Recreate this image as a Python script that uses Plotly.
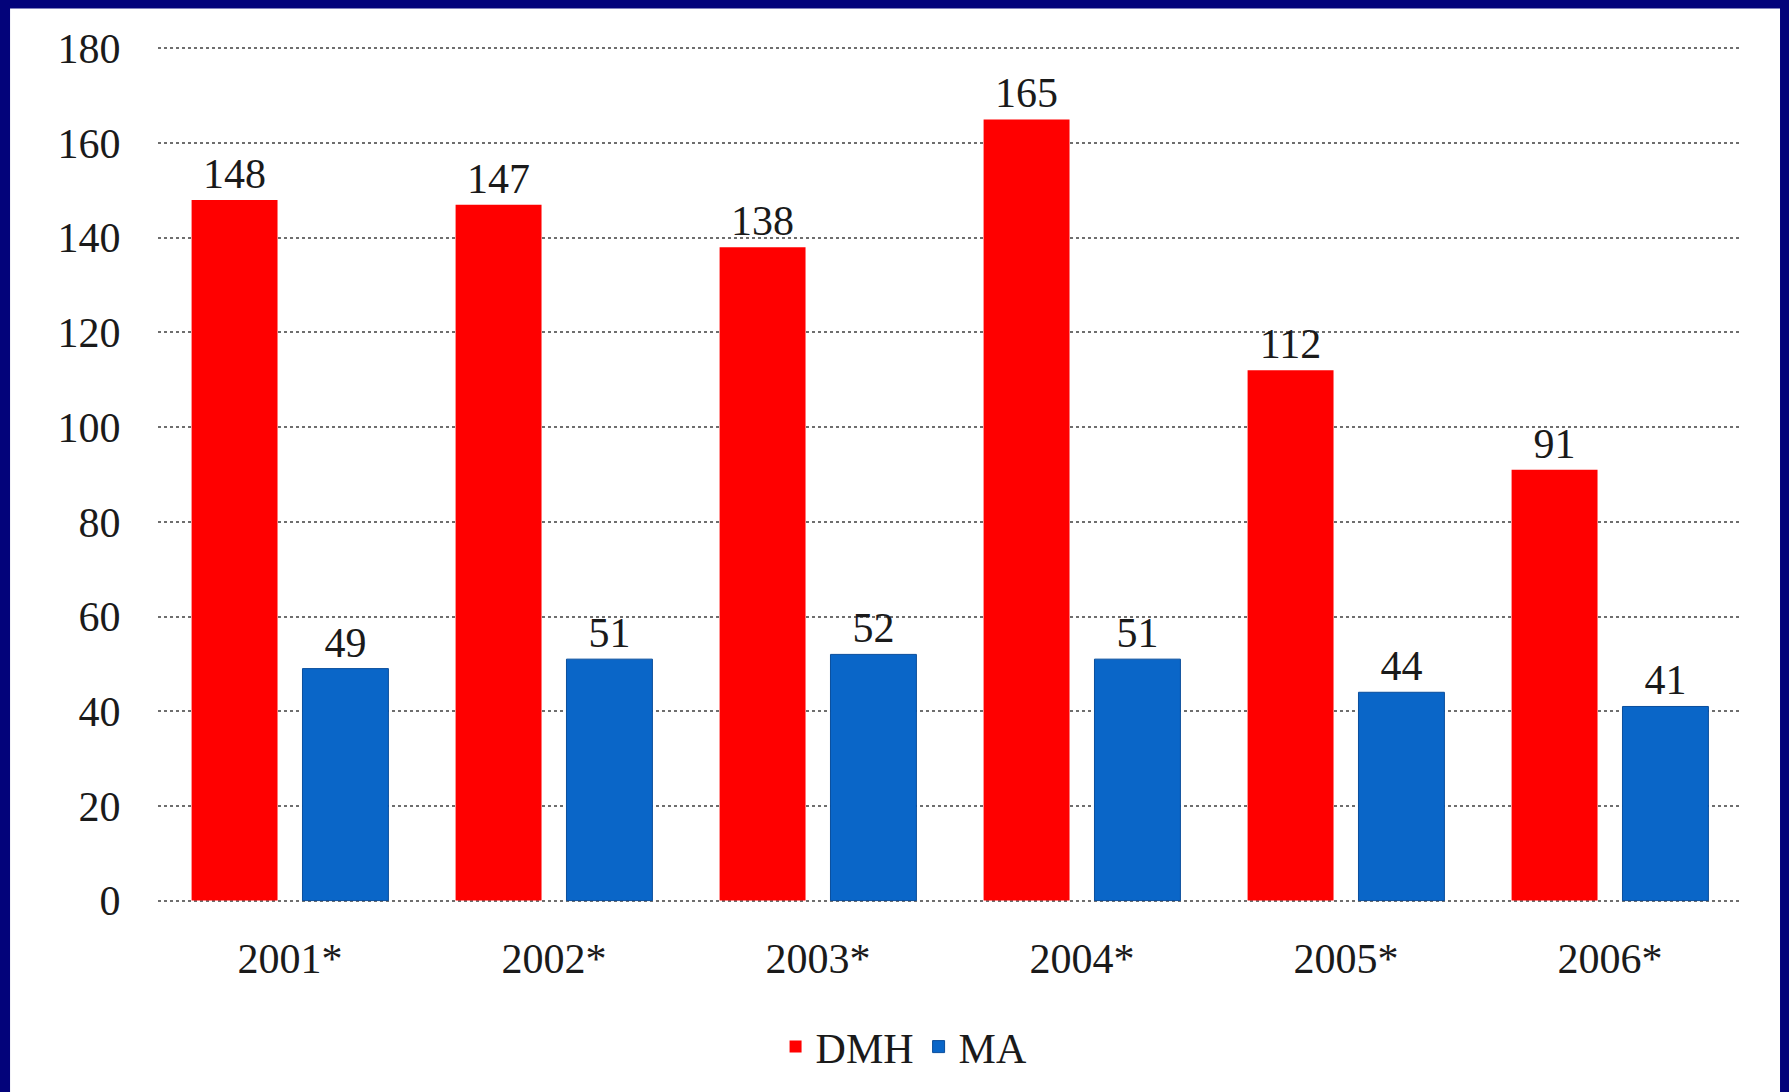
import plotly.graph_objects as go

categories = ["2001*", "2002*", "2003*", "2004*", "2005*", "2006*"]
dmh_values = [148, 147, 138, 165, 112, 91]
ma_values = [49, 51, 52, 51, 44, 41]
y_ticks = [0, 20, 40, 60, 80, 100, 120, 140, 160, 180]

FONT = "Liberation Serif"
TXT = "#1a1a1a"
FS = 42

fig = go.Figure()
fig.add_trace(go.Bar(
    x=categories, y=dmh_values, name="DMH",
    marker=dict(color="#FF0000", line=dict(width=0)),
    text=dmh_values, textposition="outside",
    textfont=dict(family=FONT, size=FS, color=TXT),
    cliponaxis=False,
))
fig.add_trace(go.Bar(
    x=categories, y=ma_values, name="MA",
    marker=dict(color="#0A66C8", line=dict(width=1, color="#0A4E9C")),
    text=ma_values, textposition="outside",
    textfont=dict(family=FONT, size=FS, color=TXT),
    cliponaxis=False,
))

# white panel inside navy frame
fig.add_shape(type="rect", xref="paper", yref="paper",
              x0=-0.0934, x1=1.024, y0=-0.3, y1=1.045,
              fillcolor="white", line=dict(width=0), layer="below")

fig.update_layout(
    width=1789, height=1092,
    margin=dict(l=158, r=47, t=47, b=189),
    paper_bgcolor="#03037A",
    plot_bgcolor="white",
    barmode="group",
    bargap=0.16,
    bargroupgap=0.225,
    font=dict(family=FONT, size=FS, color=TXT),
    showlegend=True,
    legend=dict(
        orientation="h", x=0.471, y=-0.168, xanchor="center", yanchor="middle",
        font=dict(family=FONT, size=FS, color=TXT),
        bgcolor="rgba(0,0,0,0)", itemwidth=30,
    ),
)
fig.update_xaxes(
    type="category",
    showgrid=False, showline=False, zeroline=False,
    ticks="outside", ticklen=20, tickcolor="rgba(0,0,0,0)",
    tickfont=dict(family=FONT, size=FS, color=TXT),
)
fig.update_yaxes(
    range=[-0.3, 180.3], tickvals=y_ticks,
    showgrid=True, gridcolor="#6e6e6e", griddash="dot", gridwidth=2,
    zeroline=False, showline=False,
    ticks="outside", ticklen=28, tickcolor="rgba(0,0,0,0)",
    tickfont=dict(family=FONT, size=FS, color=TXT),
)

fig.write_html("out.html")
